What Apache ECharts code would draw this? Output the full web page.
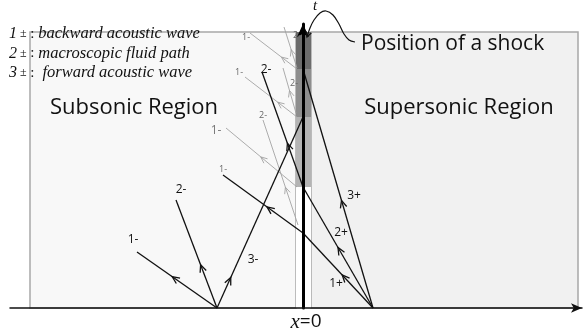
<!DOCTYPE html>
<html>
<head>
<meta charset="utf-8">
<script src="https://cdn.jsdelivr.net/npm/echarts@6/dist/echarts.min.js"></script>
<style>
html, body { margin: 0; padding: 0; background: #fff; }
#chart { width: 588px; height: 331px; }
</style>
</head>
<body>
<div id="chart"></div>
<script>
// x: distance from the shock (x = 0), t: time (units ~ pixels of the sketch)
const regions = [[-273, -7, 0, 276], [8, 275, 0, 276]];           // subsonic, supersonic
const shockBand = [[-7, 8, 0, 121], [-7, 8, 121, 191], [-7, 8, 191, 239], [-7, 8, 239, 276]];

// rays: x0, t0, x1, t1, where the arrow sits (fraction of the ray)
const mainRays = [
  [-86, 0, -166, 56, 0.56],
  [-86, 0, -127, 108, 0.40],
  [-86, 0, 0, 191, 0.16],
  [0, 121, -41, 236, 0.38],
  [0, 75, -80, 133, 0.45],
  [70, 0, 0, 75, 0.44],
  [70, 0, 0, 121, 0.50],
  [70, 0, 0, 239, 0.45]
];
const earlyRays = [
  [-6, 239, -53, 275, 0.33],
  [-6, 191, -58, 231, 0.37],
  [-6, 121, -77, 180, 0.51],
  [-6, 240, -19, 281, 0.45],
  [-7, 195, -20, 240, 0.5],
  [-5, 83, -40, 188, 0.36]
];
const mainRayLabels = [
  [-170, 68, '1-'], [-122, 118, '2-'], [-50, 48, '3-'], [-37, 238, '2-'],
  [33, 24, '1+'], [38, 75, '2+'], [51, 112, '3+']
];
const earlyRayLabels = [
  [-57, 271, '1-'], [-64, 236, '1-'], [-80, 139, '1-'],
  [-6, 273, '2-'], [-9, 225, '2-'], [-40, 193, '2-']
];
const midRayLabels = [[-87, 177, '1-']];

const shockCurve = [[52, 266], [46, 268], [41, 274], [36, 284], [30, 293], [23, 297],
  [17, 295], [11, 288], [7, 280], [4, 271]];

const regionNames = [[-169, 200, 'Subsonic Region'], [156, 200, 'Supersonic Region']];
const shockNote = [[58, 264, 'Position of a shock']];
const legendNums = ['1', '2', '3'];
const legendTexts = ['backward acoustic wave', 'macroscopic fluid path', ' forward acoustic wave'];

const regionFill = ['#f8f8f8', '#f1f1f1'];
const bandFill = ['#ffffff', '#b4b4b4', '#8e8e8e', '#6c6c6c'];

const chart = echarts.init(document.getElementById('chart'));

function rectRender(fills, stroke, lw) {
  return function (params, api) {
    const a = api.coord([api.value(0), api.value(3)]);
    const b = api.coord([api.value(1), api.value(2)]);
    return {
      type: 'rect',
      shape: { x: a[0], y: a[1], width: b[0] - a[0], height: b[1] - a[1] },
      style: { fill: fills[params.dataIndex], stroke: stroke, lineWidth: lw }
    };
  };
}

function rayRender(color, lw, head) {
  return function (params, api) {
    const p0 = api.coord([api.value(0), api.value(1)]);
    const p1 = api.coord([api.value(2), api.value(3)]);
    const f = api.value(4);
    const ax = p0[0] + (p1[0] - p0[0]) * f;
    const ay = p0[1] + (p1[1] - p0[1]) * f;
    const ang = Math.atan2(p1[1] - p0[1], p1[0] - p0[0]);
    const s = 0.42;
    return {
      type: 'group',
      children: [
        { type: 'line', shape: { x1: p0[0], y1: p0[1], x2: p1[0], y2: p1[1] },
          style: { stroke: color, lineWidth: lw } },
        { type: 'polyline',
          shape: { points: [
            [ax - head * Math.cos(ang - s), ay - head * Math.sin(ang - s)],
            [ax, ay],
            [ax - head * Math.cos(ang + s), ay - head * Math.sin(ang + s)]
          ] },
          style: { stroke: color, fill: null, lineWidth: lw } }
      ]
    };
  };
}

function textRender(list, font, color, align) {
  return function (params, api) {
    const item = list[params.dataIndex];
    const p = api.coord([item[0], item[1]]);
    return {
      type: 'text', x: p[0], y: p[1],
      style: { text: item[2], font: font, fill: color, align: align || 'center', verticalAlign: 'middle' }
    };
  };
}

function xy(list) { return list.map(r => [r[0], r[1]]); }

const option = {
  animation: false,
  grid: { left: 10, right: 6, top: 24, bottom: 23 },
  xAxis: {
    type: 'value', min: -293, max: 279, z: 6,
    axisLine: { show: true, onZero: true, symbol: ['none', 'arrow'], symbolSize: [7, 11],
      lineStyle: { color: '#111', width: 1.5 } },
    axisTick: { show: false }, axisLabel: { show: false }, splitLine: { show: false }
  },
  yAxis: {
    type: 'value', min: 0, max: 284, z: 6,
    axisLine: { show: true, onZero: true, symbol: ['none', 'arrow'], symbolSize: [9, 13],
      lineStyle: { color: '#000', width: 3 } },
    axisTick: { show: false }, axisLabel: { show: false }, splitLine: { show: false }
  },
  series: [
    { type: 'custom', z: 1, silent: true, data: regions, renderItem: rectRender(regionFill, '#a8a8a8', 1.5) },
    { type: 'custom', z: 2, silent: true, data: shockBand, renderItem: rectRender(bandFill, null, 0) },
    { type: 'custom', z: 3, silent: true, data: earlyRays, renderItem: rayRender('#a3a3a3', 0.9, 7) },
    { type: 'custom', z: 4, silent: true, data: mainRays, renderItem: rayRender('#111', 1.3, 8) },
    {
      type: 'custom', z: 7, silent: true, data: [0],
      renderItem: function (params, api) {
        const pts = shockCurve.map(p => api.coord(p));
        const n = pts.length;
        const e = pts[n - 1], q = pts[n - 2];
        const ang = Math.atan2(e[1] - q[1], e[0] - q[0]);
        const h = 6, s = 0.5;
        return {
          type: 'group',
          children: [
            { type: 'polyline', shape: { points: pts, smooth: 0.35 }, style: { stroke: '#111', lineWidth: 1.2, fill: null } },
            { type: 'polyline', shape: { points: [
              [e[0] - h * Math.cos(ang - s), e[1] - h * Math.sin(ang - s)], e,
              [e[0] - h * Math.cos(ang + s), e[1] - h * Math.sin(ang + s)]] },
              style: { stroke: '#111', lineWidth: 1.2, fill: null } }
          ]
        };
      }
    },
    { type: 'custom', z: 8, silent: true, data: xy(mainRayLabels), renderItem: textRender(mainRayLabels, '12px "Open Sans"', '#111') },
    { type: 'custom', z: 8, silent: true, data: xy(earlyRayLabels), renderItem: textRender(earlyRayLabels, '9px "Open Sans"', '#666') },
    { type: 'custom', z: 8, silent: true, data: xy(midRayLabels), renderItem: textRender(midRayLabels, '12px "Open Sans"', '#777') },
    { type: 'custom', z: 8, silent: true, data: xy(regionNames), renderItem: textRender(regionNames, '22px "Open Sans"', '#111') },
    { type: 'custom', z: 8, silent: true, data: xy(shockNote), renderItem: textRender(shockNote, '21px "Open Sans"', '#111', 'left') },
    {
      type: 'custom', z: 8, silent: true, data: legendNums.map((n, i) => [-294, 274 - i * 19.5]),
      renderItem: function (params, api) {
        const i = params.dataIndex;
        const p = api.coord([-294, 274 - i * 19.5]);
        return {
          type: 'text', x: p[0], y: p[1],
          style: {
            text: '{n|' + legendNums[i] + '}{p|±}{c| : }{d|' + legendTexts[i] + '}',
            verticalAlign: 'middle', align: 'left',
            rich: {
              n: { font: 'italic 16px "Liberation Serif"', fill: '#111' },
              p: { font: '12px "Liberation Serif"', fill: '#111', padding: [0, 0, 0, 3] },
              c: { font: '15px "Liberation Serif"', fill: '#111' },
              d: { font: 'italic 16.5px "Liberation Serif"', fill: '#111' }
            }
          }
        };
      }
    },
    {
      type: 'custom', z: 8, silent: true, data: [[3, -14], [12, 302]],
      renderItem: function (params, api) {
        const p = api.coord([api.value(0), api.value(1)]);
        if (params.dataIndex === 0) {
          return { type: 'text', x: p[0], y: p[1], style: {
            text: '{i|x}{r|=0}', align: 'center', verticalAlign: 'middle',
            rich: { i: { font: 'italic 21px "Liberation Serif"', fill: '#111' },
                    r: { font: '19px "Open Sans"', fill: '#111' } } } };
        }
        return { type: 'text', x: p[0], y: p[1], style: {
          text: 't', font: 'italic 15px "Liberation Serif"', fill: '#111', align: 'center', verticalAlign: 'middle' } };
      }
    }
  ]
};
chart.setOption(option);
</script>
</body>
</html>
